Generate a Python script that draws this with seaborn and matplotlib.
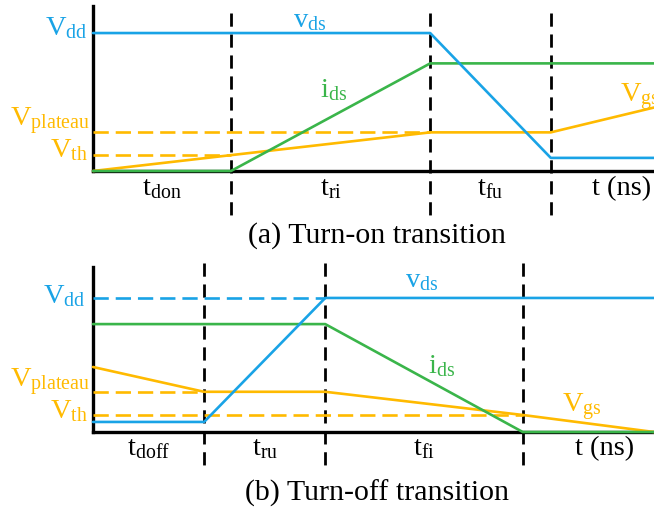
import matplotlib
matplotlib.use("Agg")
import matplotlib.pyplot as plt
import matplotlib.transforms as mtransforms
import seaborn as sns

sns.set_theme(style="white")
plt.rcParams["font.family"] = ["Liberation Serif", "DejaVu Serif"]
plt.rcParams["mathtext.fontset"] = "custom"
plt.rcParams["mathtext.rm"] = "Liberation Serif"
plt.rcParams["mathtext.it"] = "Liberation Serif:italic"
plt.rcParams["lines.scale_dashes"] = False

BLUE = "#19A3E6"
GREEN = "#3AB54A"
ORANGE = "#FFBA00"

# ---- turn-on transition (a) ----
on_edges = [0, 24.6, 60.1, 81.6, 100]          # t_don | t_ri | t_fu | rest
on_vdd, on_vplateau, on_vth = 10.0, 2.8, 1.15
on_vds_t = [0, 60.1, 81.6, 100]
on_vds = [10.0, 10.0, 0.95, 0.95]
on_ids_t = [0, 24.6, 60.1, 100]
on_ids = [0.0, 0.0, 7.8, 7.8]
on_vgs_t = [0, 24.6, 60.1, 81.6, 100]
on_vgs = [0.0, 1.15, 2.8, 2.8, 4.6]
on_intervals = ["don", "ri", "fu"]

# ---- turn-off transition (b) ----
off_edges = [0, 19.8, 41.4, 76.6, 100]         # t_doff | t_ru | t_fi | rest
off_vdd, off_vplateau, off_vth = 10.0, 3.0, 1.27
off_vds_t = [0, 19.8, 41.4, 100]
off_vds = [0.75, 0.75, 10.0, 10.0]
off_ids_t = [0, 41.4, 76.6, 100]
off_ids = [8.05, 8.05, 0.0, 0.0]
off_vgs_t = [0, 19.8, 41.4, 76.6, 100]
off_vgs = [4.85, 3.0, 3.0, 1.27, 0.0]
off_intervals = ["doff", "ru", "fi"]

FS = 20.5
W, H = 654, 512
fig = plt.figure(figsize=(W / 100, H / 100), dpi=100)
fig.patch.set_facecolor("white")

ax_on = fig.add_axes([93 / W, 1 - 171 / H, 561 / W, 165 / H])
ax_off = fig.add_axes([93 / W, 1 - 432 / H, 561 / W, 165 / H])

LW = 1.9
DASH_K = (0, (9.5, 5.6))
DASH_C = (0, (11.0, 5.0))


def trace(ax, t, v, color):
    sns.lineplot(x=t, y=v, ax=ax, color=color, lw=LW, sort=False,
                 estimator=None, clip_on=False, zorder=4)


def hdash(ax, y, x_end, color):
    ax.plot([0, x_end], [y, y], color=color, lw=LW, linestyle=DASH_C,
            clip_on=False, zorder=3)


def vdash(ax, x, top, bottom):
    # drawn top-down so the dash pattern starts with a full dash at the top
    tr = mtransforms.blended_transform_factory(ax.transData, ax.transAxes)
    ax.plot([x, x], [top, bottom], transform=tr, color="black", lw=2.0,
            linestyle=DASH_K, clip_on=False, zorder=2)


def style(ax, ytop):
    ax.set_xlim(0, 100)
    ax.set_ylim(0, ytop)
    ax.set_xticks([])
    ax.set_yticks([])
    for s in ("top", "right"):
        ax.spines[s].set_visible(False)
    for s in ("left", "bottom"):
        ax.spines[s].set_color("black")
        ax.spines[s].set_linewidth(2.4)
    ax.set_facecolor("none")


def lab(ax, x, y, txt, color, ha="left"):
    ax.text(x, y, txt, color=color, fontsize=FS, ha=ha, va="baseline",
            clip_on=False, zorder=5)


# ---- panel (a) ----
style(ax_on, 11.96)
for x in on_edges[1:4]:
    vdash(ax_on, x, 0.958, -0.267)
hdash(ax_on, on_vplateau, on_edges[2], ORANGE)
hdash(ax_on, on_vth, on_edges[1], ORANGE)
trace(ax_on, on_vgs_t, on_vgs, ORANGE)
trace(ax_on, on_ids_t, on_ids, GREEN)
trace(ax_on, on_vds_t, on_vds, BLUE)

lab(ax_on, -0.9, 9.86, r"$\mathrm{V}_{\mathrm{dd}}$", BLUE, "right")
lab(ax_on, -0.5, 3.26, r"$\mathrm{V}_{\mathrm{plateau}}$", ORANGE, "right")
lab(ax_on, -0.9, 1.01, r"$\mathrm{V}_{\mathrm{th}}$", ORANGE, "right")
lab(ax_on, 35.7, 10.43, r"$\mathrm{v}_{\mathrm{ds}}$", BLUE)
lab(ax_on, 40.5, 5.36, r"$\mathrm{i}_{\mathrm{ds}}$", GREEN)
lab(ax_on, 93.9, 5.0, r"$\mathrm{V}_{\mathrm{gs}}$", ORANGE)
for (a, b), name in zip(zip(on_edges[:3], on_edges[1:4]), on_intervals):
    lab(ax_on, (a + b) / 2, -1.74, r"$\mathrm{t}_{\mathrm{%s}}$" % name,
        "black", "center")
lab(ax_on, 94.3, -1.74, "t (ns)", "black", "center")

# ---- panel (b) ----
style(ax_off, 12.31)
for x in off_edges[1:4]:
    vdash(ax_off, x, 1.024, -0.2)
hdash(ax_off, off_vdd, off_edges[2], BLUE)
hdash(ax_off, off_vplateau, off_edges[1], ORANGE)
hdash(ax_off, off_vth, off_edges[3], ORANGE)
trace(ax_off, off_vgs_t, off_vgs, ORANGE)
trace(ax_off, off_ids_t, off_ids, GREEN)
trace(ax_off, off_vds_t, off_vds, BLUE)

lab(ax_off, -1.4, 9.63, r"$\mathrm{V}_{\mathrm{dd}}$", BLUE, "right")
lab(ax_off, -0.5, 3.36, r"$\mathrm{V}_{\mathrm{plateau}}$", ORANGE, "right")
lab(ax_off, -0.9, 1.04, r"$\mathrm{V}_{\mathrm{th}}$", ORANGE, "right")
lab(ax_off, 55.6, 10.82, r"$\mathrm{v}_{\mathrm{ds}}$", BLUE)
lab(ax_off, 59.7, 4.40, r"$\mathrm{i}_{\mathrm{ds}}$", GREEN)
lab(ax_off, 83.6, 1.49, r"$\mathrm{V}_{\mathrm{gs}}$", ORANGE)
for (a, b), name in zip(zip(off_edges[:3], off_edges[1:4]), off_intervals):
    lab(ax_off, (a + b) / 2, -1.72, r"$\mathrm{t}_{\mathrm{%s}}$" % name,
        "black", "center")
lab(ax_off, 91.1, -1.72, "t (ns)", "black", "center")

fig.text(377 / W, 1 - 243 / H, "(a) Turn-on transition", fontsize=21.5,
         ha="center", va="baseline", color="black")
fig.text(377 / W, 1 - 501 / H, "(b) Turn-off transition", fontsize=21.5,
         ha="center", va="baseline", color="black")

fig.savefig("out.png", dpi=100, facecolor="white")
